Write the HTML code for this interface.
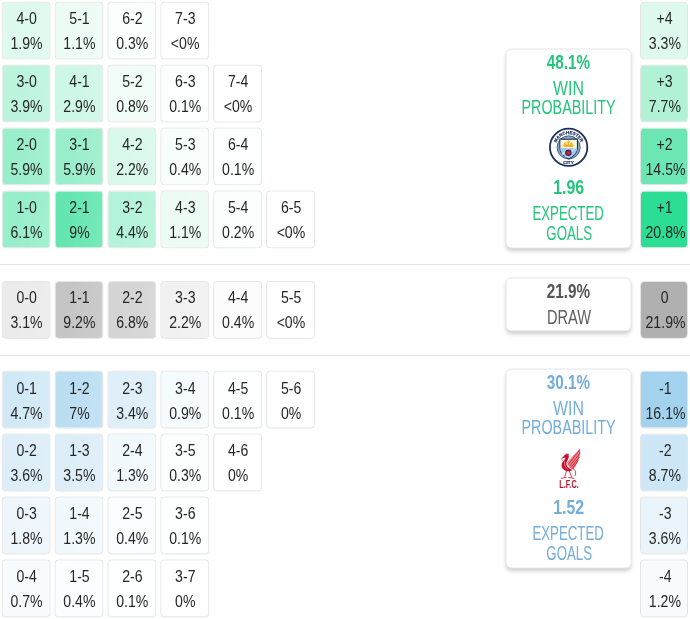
<!DOCTYPE html>
<html><head><meta charset="utf-8"><title>Score matrix</title>
<style>
html,body{margin:0;padding:0;background:#fff;}
body{width:690px;height:619px;position:relative;overflow:hidden;font-family:"Liberation Sans",sans-serif;color:#262626;}
.c{position:absolute;left:0;top:0;box-sizing:border-box;border:1px solid #e3e3e3;background-clip:padding-box;border-radius:4px;
 background-image:linear-gradient(100deg,rgba(255,255,255,0) 30%,rgba(255,255,255,.13) 100%);
 padding-top:4.5px;padding-left:1.4px;text-align:center;font-size:16.6px;line-height:25px;will-change:transform;}
.r{background-image:none;}
.t{display:block;height:25px;white-space:nowrap;}
.s{display:inline-block;transform:scaleX(.85);transform-origin:50% 50%;white-space:nowrap;}
.hr{position:absolute;left:0;width:690px;height:1px;background:#e6e6e6;}
.p{position:absolute;left:0;top:0;width:126px;box-sizing:border-box;background:#fff;border:1px solid #e6e6e6;border-radius:6px;
 box-shadow:0 3px 4px -1px rgba(0,0,0,.2);will-change:transform;}
.l{position:absolute;left:-20px;right:-20px;text-align:center;white-space:nowrap;}
.b{font-weight:bold;font-size:19.6px;line-height:20px;}
.u{font-size:19.5px;line-height:20px;}
.lg{position:absolute;display:block;overflow:visible;}
</style></head><body>
<div class="c" style="transform:translate(1.60px,1.55px);width:48.80px;height:58.00px;background-color:rgb(222,250,238);padding-top:3.00px"><span class="t"><span class="s">4-0</span></span><span class="t"><span class="s">1.9%</span></span></div>
<div class="c" style="transform:translate(54.50px,1.55px);width:48.80px;height:58.00px;background-color:rgb(236,252,245);padding-top:3.00px"><span class="t"><span class="s">5-1</span></span><span class="t"><span class="s">1.1%</span></span></div>
<div class="c" style="transform:translate(107.40px,1.55px);width:48.80px;height:58.00px;background-color:rgb(250,254,252);padding-top:3.00px"><span class="t"><span class="s">6-2</span></span><span class="t"><span class="s">0.3%</span></span></div>
<div class="c" style="transform:translate(160.30px,1.55px);width:48.80px;height:58.00px;background-color:rgb(255,255,255);padding-top:3.00px"><span class="t"><span class="s">7-3</span></span><span class="t"><span class="s">&lt;0%</span></span></div>
<div class="c" style="transform:translate(1.60px,64.50px);width:48.80px;height:58.00px;background-color:rgb(188,244,221);padding-top:3.00px"><span class="t"><span class="s">3-0</span></span><span class="t"><span class="s">3.9%</span></span></div>
<div class="c" style="transform:translate(54.50px,64.50px);width:48.80px;height:58.00px;background-color:rgb(205,247,230);padding-top:3.00px"><span class="t"><span class="s">4-1</span></span><span class="t"><span class="s">2.9%</span></span></div>
<div class="c" style="transform:translate(107.40px,64.50px);width:48.80px;height:58.00px;background-color:rgb(241,253,248);padding-top:3.00px"><span class="t"><span class="s">5-2</span></span><span class="t"><span class="s">0.8%</span></span></div>
<div class="c" style="transform:translate(160.30px,64.50px);width:48.80px;height:58.00px;background-color:rgb(253,255,254);padding-top:3.00px"><span class="t"><span class="s">6-3</span></span><span class="t"><span class="s">0.1%</span></span></div>
<div class="c" style="transform:translate(213.20px,64.50px);width:48.80px;height:58.00px;background-color:rgb(255,255,255);padding-top:3.00px"><span class="t"><span class="s">7-4</span></span><span class="t"><span class="s">&lt;0%</span></span></div>
<div class="c" style="transform:translate(1.60px,127.45px);width:48.80px;height:58.00px;background-color:rgb(153,238,203);padding-top:4.00px"><span class="t"><span class="s">2-0</span></span><span class="t"><span class="s">5.9%</span></span></div>
<div class="c" style="transform:translate(54.50px,127.45px);width:48.80px;height:58.00px;background-color:rgb(153,238,203);padding-top:4.00px"><span class="t"><span class="s">3-1</span></span><span class="t"><span class="s">5.9%</span></span></div>
<div class="c" style="transform:translate(107.40px,127.45px);width:48.80px;height:58.00px;background-color:rgb(217,249,236);padding-top:4.00px"><span class="t"><span class="s">4-2</span></span><span class="t"><span class="s">2.2%</span></span></div>
<div class="c" style="transform:translate(160.30px,127.45px);width:48.80px;height:58.00px;background-color:rgb(248,254,252);padding-top:4.00px"><span class="t"><span class="s">5-3</span></span><span class="t"><span class="s">0.4%</span></span></div>
<div class="c" style="transform:translate(213.20px,127.45px);width:48.80px;height:58.00px;background-color:rgb(253,255,254);padding-top:4.00px"><span class="t"><span class="s">6-4</span></span><span class="t"><span class="s">0.1%</span></span></div>
<div class="c" style="transform:translate(1.60px,190.40px);width:48.80px;height:58.00px;background-color:rgb(150,238,202);padding-top:4.00px"><span class="t"><span class="s">1-0</span></span><span class="t"><span class="s">6.1%</span></span></div>
<div class="c" style="transform:translate(54.50px,190.40px);width:48.80px;height:58.00px;background-color:rgb(100,230,176);padding-top:4.00px"><span class="t"><span class="s">2-1</span></span><span class="t"><span class="s">9%</span></span></div>
<div class="c" style="transform:translate(107.40px,190.40px);width:48.80px;height:58.00px;background-color:rgb(179,243,217);padding-top:4.00px"><span class="t"><span class="s">3-2</span></span><span class="t"><span class="s">4.4%</span></span></div>
<div class="c" style="transform:translate(160.30px,190.40px);width:48.80px;height:58.00px;background-color:rgb(236,252,245);padding-top:4.00px"><span class="t"><span class="s">4-3</span></span><span class="t"><span class="s">1.1%</span></span></div>
<div class="c" style="transform:translate(213.20px,190.40px);width:48.80px;height:58.00px;background-color:rgb(252,254,253);padding-top:4.00px"><span class="t"><span class="s">5-4</span></span><span class="t"><span class="s">0.2%</span></span></div>
<div class="c" style="transform:translate(266.10px,190.40px);width:48.80px;height:58.00px;background-color:rgb(255,255,255);padding-top:4.00px"><span class="t"><span class="s">6-5</span></span><span class="t"><span class="s">&lt;0%</span></span></div>
<div class="c" style="transform:translate(1.60px,280.90px);width:48.80px;height:57.90px;background-color:rgb(235,235,235);padding-top:3.00px"><span class="t"><span class="s">0-0</span></span><span class="t"><span class="s">3.1%</span></span></div>
<div class="c" style="transform:translate(54.50px,280.90px);width:48.80px;height:57.90px;background-color:rgb(197,197,197);padding-top:3.00px"><span class="t"><span class="s">1-1</span></span><span class="t"><span class="s">9.2%</span></span></div>
<div class="c" style="transform:translate(107.40px,280.90px);width:48.80px;height:57.90px;background-color:rgb(212,212,212);padding-top:3.00px"><span class="t"><span class="s">2-2</span></span><span class="t"><span class="s">6.8%</span></span></div>
<div class="c" style="transform:translate(160.30px,280.90px);width:48.80px;height:57.90px;background-color:rgb(241,241,241);padding-top:3.00px"><span class="t"><span class="s">3-3</span></span><span class="t"><span class="s">2.2%</span></span></div>
<div class="c" style="transform:translate(213.20px,280.90px);width:48.80px;height:57.90px;background-color:rgb(252,252,252);padding-top:3.00px"><span class="t"><span class="s">4-4</span></span><span class="t"><span class="s">0.4%</span></span></div>
<div class="c" style="transform:translate(266.10px,280.90px);width:48.80px;height:57.90px;background-color:rgb(255,255,255);padding-top:3.00px"><span class="t"><span class="s">5-5</span></span><span class="t"><span class="s">&lt;0%</span></span></div>
<div class="c" style="transform:translate(1.60px,370.50px);width:48.80px;height:58.30px;background-color:rgb(209,233,247);padding-top:4.00px"><span class="t"><span class="s">0-1</span></span><span class="t"><span class="s">4.7%</span></span></div>
<div class="c" style="transform:translate(54.50px,370.50px);width:48.80px;height:58.30px;background-color:rgb(187,222,243);padding-top:4.00px"><span class="t"><span class="s">1-2</span></span><span class="t"><span class="s">7%</span></span></div>
<div class="c" style="transform:translate(107.40px,370.50px);width:48.80px;height:58.30px;background-color:rgb(222,239,249);padding-top:4.00px"><span class="t"><span class="s">2-3</span></span><span class="t"><span class="s">3.4%</span></span></div>
<div class="c" style="transform:translate(160.30px,370.50px);width:48.80px;height:58.30px;background-color:rgb(246,251,253);padding-top:4.00px"><span class="t"><span class="s">3-4</span></span><span class="t"><span class="s">0.9%</span></span></div>
<div class="c" style="transform:translate(213.20px,370.50px);width:48.80px;height:58.30px;background-color:rgb(254,255,255);padding-top:4.00px"><span class="t"><span class="s">4-5</span></span><span class="t"><span class="s">0.1%</span></span></div>
<div class="c" style="transform:translate(266.10px,370.50px);width:48.80px;height:58.30px;background-color:rgb(255,255,255);padding-top:4.00px"><span class="t"><span class="s">5-6</span></span><span class="t"><span class="s">0%</span></span></div>
<div class="c" style="transform:translate(1.60px,433.45px);width:48.80px;height:58.30px;background-color:rgb(220,238,249);padding-top:4.00px"><span class="t"><span class="s">0-2</span></span><span class="t"><span class="s">3.6%</span></span></div>
<div class="c" style="transform:translate(54.50px,433.45px);width:48.80px;height:58.30px;background-color:rgb(221,238,249);padding-top:4.00px"><span class="t"><span class="s">1-3</span></span><span class="t"><span class="s">3.5%</span></span></div>
<div class="c" style="transform:translate(107.40px,433.45px);width:48.80px;height:58.30px;background-color:rgb(242,249,253);padding-top:4.00px"><span class="t"><span class="s">2-4</span></span><span class="t"><span class="s">1.3%</span></span></div>
<div class="c" style="transform:translate(160.30px,433.45px);width:48.80px;height:58.30px;background-color:rgb(252,254,254);padding-top:4.00px"><span class="t"><span class="s">3-5</span></span><span class="t"><span class="s">0.3%</span></span></div>
<div class="c" style="transform:translate(213.20px,433.45px);width:48.80px;height:58.30px;background-color:rgb(255,255,255);padding-top:4.00px"><span class="t"><span class="s">4-6</span></span><span class="t"><span class="s">0%</span></span></div>
<div class="c" style="transform:translate(1.60px,496.40px);width:48.80px;height:58.30px;background-color:rgb(238,246,252);padding-top:4.00px"><span class="t"><span class="s">0-3</span></span><span class="t"><span class="s">1.8%</span></span></div>
<div class="c" style="transform:translate(54.50px,496.40px);width:48.80px;height:58.30px;background-color:rgb(242,249,253);padding-top:4.00px"><span class="t"><span class="s">1-4</span></span><span class="t"><span class="s">1.3%</span></span></div>
<div class="c" style="transform:translate(107.40px,496.40px);width:48.80px;height:58.30px;background-color:rgb(251,253,254);padding-top:4.00px"><span class="t"><span class="s">2-5</span></span><span class="t"><span class="s">0.4%</span></span></div>
<div class="c" style="transform:translate(160.30px,496.40px);width:48.80px;height:58.30px;background-color:rgb(254,255,255);padding-top:4.00px"><span class="t"><span class="s">3-6</span></span><span class="t"><span class="s">0.1%</span></span></div>
<div class="c" style="transform:translate(1.60px,559.35px);width:48.80px;height:58.30px;background-color:rgb(248,252,254);padding-top:4.00px"><span class="t"><span class="s">0-4</span></span><span class="t"><span class="s">0.7%</span></span></div>
<div class="c" style="transform:translate(54.50px,559.35px);width:48.80px;height:58.30px;background-color:rgb(251,253,254);padding-top:4.00px"><span class="t"><span class="s">1-5</span></span><span class="t"><span class="s">0.4%</span></span></div>
<div class="c" style="transform:translate(107.40px,559.35px);width:48.80px;height:58.30px;background-color:rgb(254,255,255);padding-top:4.00px"><span class="t"><span class="s">2-6</span></span><span class="t"><span class="s">0.1%</span></span></div>
<div class="c" style="transform:translate(160.30px,559.35px);width:48.80px;height:58.30px;background-color:rgb(255,255,255);padding-top:4.00px"><span class="t"><span class="s">3-7</span></span><span class="t"><span class="s">0%</span></span></div>
<div class="c r" style="transform:translate(640.00px,1.55px);width:48.40px;height:58.00px;background-color:rgb(222,250,238);padding-top:3.00px"><span class="t"><span class="s">+4</span></span><span class="t"><span class="s">3.3%</span></span></div>
<div class="c r" style="transform:translate(640.00px,64.50px);width:48.40px;height:58.00px;background-color:rgb(177,242,215);padding-top:3.00px"><span class="t"><span class="s">+3</span></span><span class="t"><span class="s">7.7%</span></span></div>
<div class="c r" style="transform:translate(640.00px,127.45px);width:48.40px;height:58.00px;background-color:rgb(108,231,180);padding-top:4.00px"><span class="t"><span class="s">+2</span></span><span class="t"><span class="s">14.5%</span></span></div>
<div class="c r" style="transform:translate(640.00px,190.40px);width:48.40px;height:58.00px;background-color:rgb(44,221,148);padding-top:4.00px"><span class="t"><span class="s">+1</span></span><span class="t"><span class="s">20.8%</span></span></div>
<div class="c r" style="transform:translate(640.00px,280.90px);width:48.40px;height:57.90px;background-color:rgb(176,176,176);padding-top:3.00px"><span class="t"><span class="s">0</span></span><span class="t"><span class="s">21.9%</span></span></div>
<div class="c r" style="transform:translate(640.00px,370.50px);width:48.40px;height:58.30px;background-color:rgb(163,210,239);padding-top:4.00px"><span class="t"><span class="s">-1</span></span><span class="t"><span class="s">16.1%</span></span></div>
<div class="c r" style="transform:translate(640.00px,433.45px);width:48.40px;height:58.30px;background-color:rgb(205,231,246);padding-top:4.00px"><span class="t"><span class="s">-2</span></span><span class="t"><span class="s">8.7%</span></span></div>
<div class="c r" style="transform:translate(640.00px,496.40px);width:48.40px;height:58.30px;background-color:rgb(234,245,251);padding-top:4.00px"><span class="t"><span class="s">-3</span></span><span class="t"><span class="s">3.6%</span></span></div>
<div class="c r" style="transform:translate(640.00px,559.35px);width:48.40px;height:58.30px;background-color:rgb(248,252,254);padding-top:4.00px"><span class="t"><span class="s">-4</span></span><span class="t"><span class="s">1.2%</span></span></div>
<div class="hr" style="top:264.3px"></div>
<div class="hr" style="top:354.6px"></div>
<div class="p" style="transform:translate(505.6px,48.5px);height:199.6px;color:#26c47d">
<div class="l b" style="top:1.5px"><span class="s" style="transform:scaleX(.78)">48.1%</span></div>
<div class="l u" style="top:27.6px"><span class="s" style="transform:scaleX(.815)">WIN</span></div>
<div class="l u" style="top:47.2px"><span class="s" style="transform:scaleX(.735)">PROBABILITY</span></div>
<svg class="lg" style="left:40px;top:76.1px" width="44" height="44" viewBox="0 0 619 619">
<circle cx="310" cy="306" r="263" fill="#fff" stroke="#1d2d5c" stroke-width="25"/>
<circle cx="310" cy="308" r="163" fill="#86a9cc" stroke="#1d2d5c" stroke-width="9"/>
<circle cx="310" cy="308" r="134" fill="#c5d6e8"/>
<path d="M186 192H434V318C434 392 372 440 310 472C248 440 186 392 186 318Z" fill="#fdf4d3" stroke="#1d2d5c" stroke-width="15" stroke-linejoin="round"/>
<path d="M194 318H426V322C426 386 368 432 310 462C252 432 194 386 194 322Z" fill="#9cc9ec"/>
<path d="M205 400L300 318H330L222 420ZM250 440L390 318H420L275 455Z" fill="#d6e9f7" opacity=".8"/>
<path d="M226 268H386L366 302H246ZM298 212H314V268H298ZM254 238H270V268H254ZM340 238H356V268H340ZM280 226H330V241H280ZM242 250H282V263H242ZM328 250H370V263H328Z" fill="#f0b02c"/>
<circle cx="306" cy="384" r="38" fill="#bd1739" stroke="#3a2a5e" stroke-width="15"/>
<circle cx="306" cy="384" r="11" fill="#d8405a"/>
<path id="mca" d="M136.1 242.7A185 185 0 0 1 483.9 242.7" fill="none"/>
<text font-family="Liberation Sans, sans-serif" font-weight="bold" font-size="62" fill="#1d2d5c" stroke="#1d2d5c" stroke-width="3"><textPath href="#mca" textLength="446" lengthAdjust="spacingAndGlyphs">MANCHESTER</textPath></text>
<text x="308" y="538" text-anchor="middle" font-family="Liberation Sans, sans-serif" font-weight="bold" font-size="60" fill="#1d2d5c" stroke="#1d2d5c" stroke-width="3" textLength="150" lengthAdjust="spacingAndGlyphs">CITY</text>
<circle cx="100" cy="312" r="9" fill="#c9d3e0"/><circle cx="508" cy="312" r="9" fill="#c9d3e0"/>
</svg>

<div class="l b" style="top:127.3px"><span class="s" style="transform:scaleX(.81)">1.96</span></div>
<div class="l u" style="top:153.3px"><span class="s" style="transform:scaleX(.68)">EXPECTED</span></div>
<div class="l u" style="top:172.7px;margin-left:2px"><span class="s" style="transform:scaleX(.68)">GOALS</span></div>
</div>
<div class="p" style="transform:translate(505.6px,277.4px);height:54px;">
<div class="l b" style="top:3.1px;color:#55555a"><span class="s" style="transform:scaleX(.78)">21.9%</span></div>
<div class="l u" style="top:29.2px;color:#606060"><span class="s" style="transform:scaleX(.75)">DRAW</span></div>
</div>
<div class="p" style="transform:translate(505.6px,368.5px);height:199.6px;color:#74aedb">
<div class="l b" style="top:1.5px"><span class="s" style="transform:scaleX(.78)">30.1%</span></div>
<div class="l u" style="top:27.6px"><span class="s" style="transform:scaleX(.815)">WIN</span></div>
<div class="l u" style="top:47.2px"><span class="s" style="transform:scaleX(.735)">PROBABILITY</span></div>
<svg class="lg" style="left:46.6px;top:73.6px" width="34" height="48" viewBox="0 0 438 619">
<g transform="translate(-10,17)">
<path d="M186 226C226 176 290 108 346 58C354 128 326 224 266 304C244 324 206 300 186 226Z" fill="#ee7f8a"/>
<path d="M200 252L340 72M218 274L348 108M236 292L340 158M254 304L324 206" stroke="#d62c3e" stroke-width="12" stroke-linecap="round" fill="none"/>
<path d="M346 58C354 128 326 224 266 304" stroke="#d62c3e" stroke-width="9" fill="none" stroke-linecap="round"/>
<path d="M152 132C170 114 204 120 207 146C209 174 184 198 176 232C170 272 204 306 254 326C228 348 180 348 146 324C108 296 102 252 130 218C148 194 162 182 160 168C152 162 136 172 116 175C126 162 137 152 152 132Z" fill="#c8102e"/>
<path d="M162 124l9-14 8 12 9-14 8 14 10-10 2 16Z" fill="#c8102e"/>
<path d="M119 177c-4 10 0 20 6 27" stroke="#c8102e" stroke-width="8" fill="none" stroke-linecap="round"/>
<path d="M152 218C143 252 154 286 188 310" stroke="#f19aa3" stroke-width="10" fill="none" stroke-linecap="round"/>
<path d="M256 308C290 318 304 354 288 396" stroke="#c8102e" stroke-width="11" fill="none" stroke-linecap="round"/>
<path d="M176 338L152 418M214 340L242 418" stroke="#c8102e" stroke-width="10" fill="none" stroke-linecap="round"/>
<path d="M108 432L172 422M204 422L274 432" stroke="#c8102e" stroke-width="10" fill="none" stroke-linecap="round"/>
</g>
<text x="198" y="572" text-anchor="middle" font-family="Liberation Sans, sans-serif" font-weight="bold" font-size="142" fill="#b3162c" textLength="250" lengthAdjust="spacingAndGlyphs">L.F.C.</text>
</svg>

<div class="l b" style="top:127.3px"><span class="s" style="transform:scaleX(.81)">1.52</span></div>
<div class="l u" style="top:153.3px"><span class="s" style="transform:scaleX(.68)">EXPECTED</span></div>
<div class="l u" style="top:172.7px;margin-left:2px"><span class="s" style="transform:scaleX(.68)">GOALS</span></div>
</div>
</body></html>
